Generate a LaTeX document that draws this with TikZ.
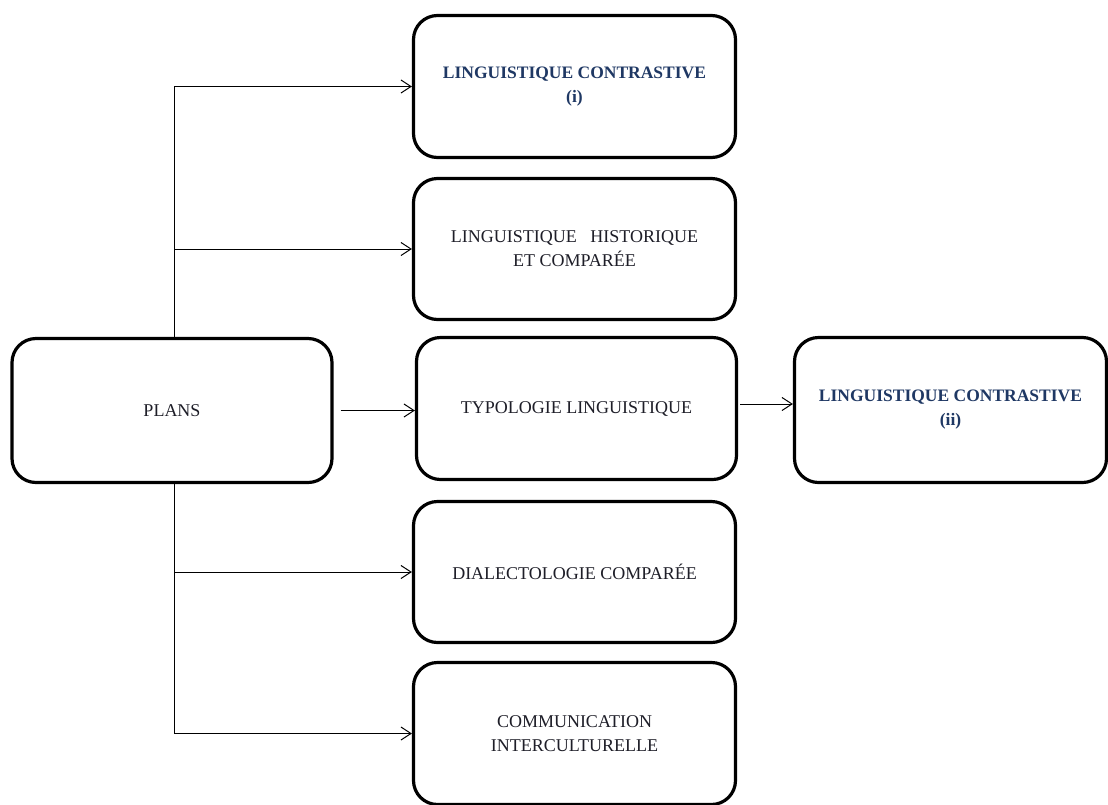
\documentclass[tikz,border=0pt]{standalone}
\usepackage{fontspec}
\setmainfont{Liberation Serif}
\usetikzlibrary{arrows.meta}
\definecolor{txtblue}{RGB}{31,56,100}
\definecolor{txtdark}{RGB}{30,30,40}
\tikzset{
  box/.style={draw=black, line width=3.2pt, rounded corners=24pt, fill=white,
    align=center, text=txtdark, font=\fontsize{18}{24}\selectfont},
  boldbox/.style={box, text=txtblue, font=\fontsize{17.5}{24}\selectfont\bfseries},
  arr/.style={draw=black, line width=1pt, -{Straight Barb[length=10pt,width=13pt,line width=1pt]}},
  ln/.style={draw=black, line width=1pt}
}
\begin{document}
\begin{tikzpicture}[x=1pt,y=-1pt]
\useasboundingbox (0,0) rectangle (1108,804);
\node[boldbox, minimum width=322pt, minimum height=142pt] (b1) at (574.5,86.5) {LINGUISTIQUE CONTRASTIVE\\(i)};
\node[box, minimum width=322pt, minimum height=141pt] (b2) at (574.5,249) {LINGUISTIQUE\ \ \ HISTORIQUE\\ET COMPARÉE};
\node[box, minimum width=320pt, minimum height=142pt] (b3) at (576.5,408.5) {TYPOLOGIE LINGUISTIQUE};
\node[box, minimum width=322pt, minimum height=141pt] (b4) at (574.5,572) {DIALECTOLOGIE COMPARÉE};
\node[box, minimum width=322pt, minimum height=142pt] (b5) at (574.5,733.5) {COMMUNICATION\\INTERCULTURELLE};
\node[box, minimum width=320pt, minimum height=144pt] (plans) at (172,410.5) {PLANS};
\node[boldbox, minimum width=312pt, minimum height=145pt] (right) at (950.5,410) {LINGUISTIQUE CONTRASTIVE\\(ii)};
\coordinate (tt) at (174,337);
\coordinate (tb) at (174,484);
\coordinate (r1) at (740,404);
\draw[arr] (tt) |- (b1.west);
\draw[arr] (tt) |- (b2.west);
\draw[arr] (tb) |- (b4.west);
\draw[arr] (tb) |- (b5.west);
\draw[arr, shorten <=7pt] (plans.east) -- (plans.east -| b3.west);
\draw[arr] (r1) -- (r1 -| right.west);
\end{tikzpicture}
\end{document}
